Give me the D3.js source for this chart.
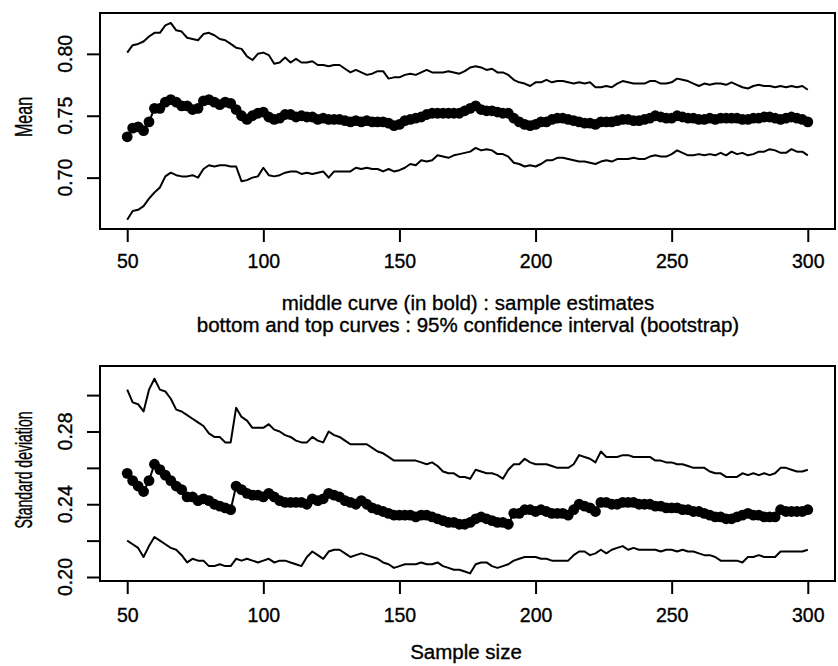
<!DOCTYPE html>
<html>
<head>
<meta charset="utf-8">
<script src="https://cdnjs.cloudflare.com/ajax/libs/d3/7.8.5/d3.min.js"></script>
<style>
  body { margin: 0; background: #fff; }
  svg text { font-family: "Liberation Sans", Arial, Helvetica, sans-serif; fill: #000; stroke: #000; stroke-width: 0.35px; }
</style>
</head>
<body>
<div id="chart"></div>
<script>
// sample sizes (every 2nd value)
var sampleSize = d3.range(50, 301, 2);

// top panel : mean
var meanHigh = [
  .801, .807, .808, .810, .814, .817, .817, .823, .825, .819, .818, .813, .812, .811, .816, .817, .815, .812, .811, .808,
  .805, .804, .798, .795, .800, .801, .799, .792, .793, .797, .793, .796, .793, .793, .794, .791, .791, .790, .791, .791,
  .788, .785, .787,
  .785, .783, .784, .786, .786, .780, .781, .781, .783, .784, .783, .785, .787, .785, .785, .785, .786, .785, .784, .786,
  .789, .790, .789, .787, .788, .785, .785, .783, .779, .777, .776, .774, .777, .777, .779, .777, .778, .778, .777, .776,
  .777, .776,
  .777, .773, .773, .774, .773, .776, .778, .777, .776, .776, .776, .778, .778, .776, .776, .777, .780, .779, .778, .776,
  .774, .776, .775, .776, .776, .775, .777, .775, .773, .772, .774, .775, .774, .774, .773, .774, .773, .774, .773, .774,
  .771
];
var meanEst = [
  .733, .740, .741, .738, .745, .756, .756, .761, .763, .761, .758, .758, .755, .756, .762, .763, .761, .759, .761, .760,
  .755, .750, .747, .750, .752, .753, .749, .747, .748, .751, .751, .749, .750, .749, .749, .747, .748, .747, .747, .747,
  .746, .745, .746,
  .745, .746, .745, .745, .745, .744, .742, .743, .746, .747, .748, .749, .751, .752, .752, .752, .752, .752, .752, .754,
  .756, .758, .755, .754, .754, .753, .752, .752, .748, .745, .743, .742, .743, .745, .745, .747, .748, .748, .747, .746,
  .745, .744,
  .744, .743, .745, .745, .745, .746, .747, .747, .746, .746, .747, .748, .750, .749, .748, .748, .750, .749, .748, .748,
  .747, .747, .748, .747, .748, .748, .748, .748, .747, .747, .748, .748, .749, .749, .748, .747, .748, .749, .748, .747,
  .745
];
var meanLow = [
  .666, .673, .674, .677, .683, .688, .692, .701, .704, .702, .701, .701, .702, .700, .707, .710, .709, .710, .710, .709,
  .709, .697, .698, .700, .701, .708, .702, .701, .702, .704, .705, .705, .703, .704, .703, .704, .705, .700, .705, .705,
  .705, .705, .708,
  .707, .708, .707, .707, .705, .707, .705, .706, .708, .711, .710, .714, .713, .714, .718, .717, .716, .718, .719, .720,
  .721, .724, .722, .723, .722, .719, .719, .717, .712, .711, .709, .710, .709, .711, .714, .714, .716, .716, .715, .714,
  .713, .713,
  .712, .711, .713, .714, .713, .715, .715, .715, .716, .715, .715, .717, .718, .717, .717, .719, .722, .720, .718, .718,
  .719, .718, .719, .718, .720, .718, .721, .719, .720, .718, .719, .721, .721, .723, .722, .720, .720, .723, .721, .721,
  .718
];

// bottom panel : standard deviation
var sdHigh = [
  .303, .296, .295, .291, .303, .309, .303, .302, .298, .292, .291, .289, .287, .285, .283, .279, .277, .277, .274, .274,
  .293, .288, .286, .282, .282, .282, .284, .281, .280, .278, .277, .275, .274, .274, .277, .275, .274, .280, .278, .277,
  .275, .273, .273,
  .273, .273, .271, .269, .268, .266, .264, .264, .264, .264, .264, .263, .262, .263, .261, .258, .257, .257, .255, .255,
  .254, .259, .258, .257, .257, .256, .254, .259, .262, .262, .265, .263, .262, .262, .262, .261, .260, .260, .260, .262,
  .267, .266,
  .265, .263, .269, .266, .266, .266, .267, .267, .266, .266, .266, .266, .264, .264, .263, .263, .262, .262, .261, .260,
  .260, .260, .258, .257, .257, .255, .255, .255, .257, .256, .257, .256, .257, .256, .257, .260, .260, .259, .258, .258,
  .259
];
var sdEst = [
  .257, .253, .250, .247, .253, .262, .259, .256, .253, .250, .248, .244, .244, .242, .243, .242, .240, .239, .238, .237,
  .250, .248, .246, .245, .245, .244, .246, .244, .242, .241, .241, .241, .241, .240, .243, .242, .243, .246, .245, .244,
  .242, .241, .240,
  .242, .240, .238, .237, .236, .235, .234, .234, .234, .234, .233, .234, .234, .233, .232, .231, .230, .230, .229, .229,
  .230, .232, .233, .232, .231, .230, .230, .229, .235, .235, .237, .237, .236, .237, .236, .235, .235, .235, .234, .237,
  .240, .239,
  .238, .236, .241, .241, .240, .240, .241, .241, .241, .240, .240, .240, .239, .239, .238, .238, .238, .237, .237, .236,
  .236, .235, .234, .233, .233, .232, .232, .233, .234, .235, .234, .234, .233, .233, .233, .237, .236, .236, .236, .236,
  .237
];
var sdLow = [
  .220, .218, .216, .211, .217, .222, .220, .218, .216, .215, .212, .208, .210, .209, .209, .206, .206, .207, .206, .206,
  .210, .209, .210, .209, .208, .209, .210, .208, .209, .209, .208, .207, .206, .211, .214, .212, .210, .214, .215, .215,
  .213, .211, .212,
  .213, .212, .211, .210, .208, .207, .205, .206, .207, .207, .207, .208, .207, .207, .208, .206, .205, .204, .204, .203,
  .202, .207, .208, .208, .206, .205, .206, .207, .209, .210, .211, .211, .211, .210, .210, .209, .209, .209, .209, .212,
  .214, .214,
  .212, .213, .215, .213, .215, .216, .217, .215, .216, .215, .215, .215, .215, .214, .215, .215, .214, .215, .214, .214,
  .213, .212, .212, .211, .209, .209, .209, .209, .208, .211, .211, .212, .211, .211, .211, .214, .214, .214, .214, .214,
  .215
];

var xTicks = [50, 100, 150, 200, 250, 300];
var meanTicks = [0.70, 0.75, 0.80];
var sdTicks = [0.20, 0.22, 0.24, 0.26, 0.28, 0.30];
var sdTickLabels = [0.20, 0.24, 0.28];

var captionLines = [
  "middle curve (in bold) : sample estimates",
  "bottom and top curves : 95% confidence interval (bootstrap)"
];

var width = 838, height = 666;
var svg = d3.select("#chart").append("svg")
  .attr("width", width)
  .attr("height", height);

var x = d3.scaleLinear().domain([40, 310]).range([100, 835]);

function drawPanel(opt) {
  var y = d3.scaleLinear().domain(opt.domain).range([opt.bottom, opt.top]);
  var g = svg.append("g");

  var line = d3.line()
    .x(function(d, i) { return x(sampleSize[i]); })
    .y(function(d) { return y(d); });

  [opt.low, opt.high].forEach(function(s) {
    g.append("path")
      .attr("d", line(s))
      .attr("fill", "none")
      .attr("stroke", "#000")
      .attr("stroke-width", 2)
      .attr("stroke-linejoin", "round");
  });

  // bold middle curve: points joined by a thin line
  g.append("path")
    .attr("d", line(opt.est))
    .attr("fill", "none")
    .attr("stroke", "#000")
    .attr("stroke-width", 2);

  g.selectAll(".pt")
    .data(opt.est)
    .enter()
    .append("circle")
    .attr("cx", function(d, i) { return x(sampleSize[i]); })
    .attr("cy", function(d) { return y(d); })
    .attr("r", 5.4)
    .attr("fill", "#000");

  g.append("rect")
    .attr("x", 100)
    .attr("y", opt.top)
    .attr("width", 735)
    .attr("height", opt.bottom - opt.top)
    .attr("fill", "none")
    .attr("stroke", "#000")
    .attr("stroke-width", 2);

  var xAxis = d3.axisBottom(x).tickValues(xTicks).tickSize(13).tickPadding(0).tickFormat(d3.format("d"));
  var gx = g.append("g")
    .attr("transform", "translate(0," + opt.bottom + ")")
    .call(xAxis);
  gx.select(".domain").remove();
  gx.selectAll("line").attr("stroke-width", 2);
  gx.selectAll("text")
    .attr("y", opt.xLabelBase - opt.bottom)
    .attr("dy", null)
    .attr("font-size", 19.5)
    .style("font-family", "'Liberation Sans', Arial, sans-serif");

  var yAxis = d3.axisLeft(y).tickValues(opt.ticks).tickSize(13).tickFormat("");
  var gy = g.append("g")
    .attr("transform", "translate(100,0)")
    .call(yAxis);
  gy.select(".domain").remove();
  gy.selectAll("line").attr("stroke-width", 2);

  // tick labels parallel to the axis (the original font is narrow)
  g.selectAll(".ylab")
    .data(opt.tickLabels)
    .enter()
    .append("text")
    .attr("transform", function(d) { return "translate(72," + y(d) + ") rotate(-90) scale(0.93,1)"; })
    .attr("text-anchor", "middle")
    .attr("font-size", 21)
    .text(function(d) { return d3.format(".2f")(d); });

  g.append("text")
    .attr("transform", "translate(32," + opt.titleY + ") rotate(-90) scale(" + opt.titleScale + ",1)")
    .attr("text-anchor", "middle")
    .attr("font-size", 23)
    .text(opt.title);
}

drawPanel({
  top: 13, bottom: 229, domain: [0.6585, 0.833],
  low: meanLow, est: meanEst, high: meanHigh,
  ticks: meanTicks, tickLabels: meanTicks,
  title: "Mean", titleScale: 0.70, titleY: 117, xLabelBase: 268
});

drawPanel({
  top: 366, bottom: 581, domain: [0.1978, 0.316],
  low: sdLow, est: sdEst, high: sdHigh,
  ticks: sdTicks, tickLabels: sdTickLabels,
  title: "Standard deviation", titleScale: 0.61, titleY: 470, xLabelBase: 622
});

svg.selectAll(".caption")
  .data(captionLines)
  .enter()
  .append("text")
  .attr("x", 468)
  .attr("y", function(d, i) { return 310 + i * 22; })
  .attr("text-anchor", "middle")
  .attr("font-size", 20.5)
  .text(function(d) { return d; });

svg.append("text")
  .attr("x", 466)
  .attr("y", 659)
  .attr("text-anchor", "middle")
  .attr("font-size", 20.5)
  .text("Sample size");
</script>
</body>
</html>
